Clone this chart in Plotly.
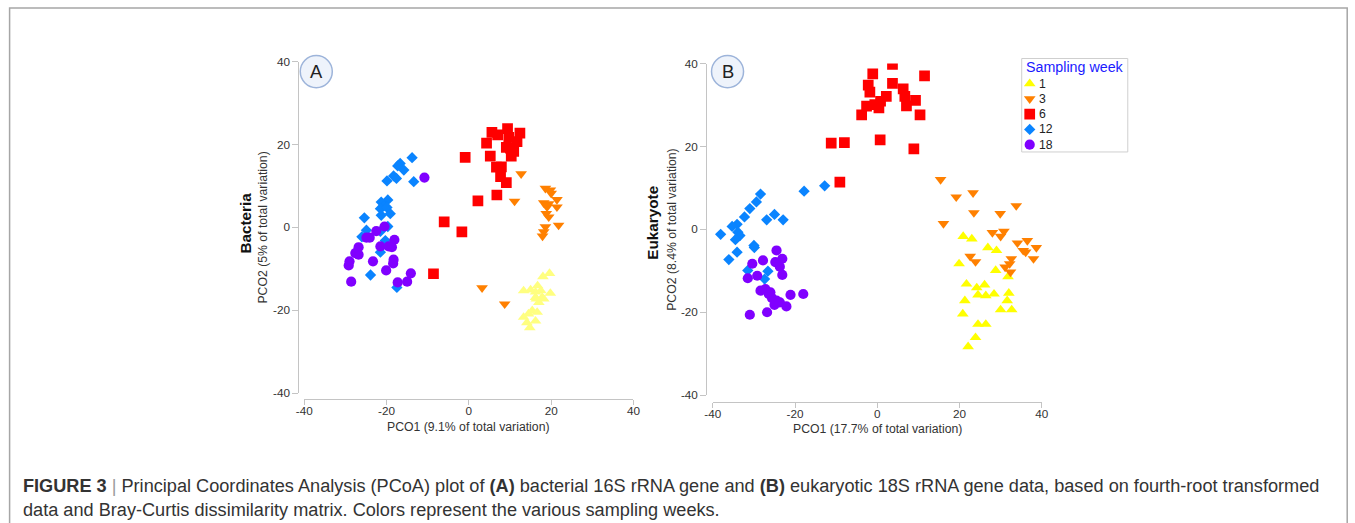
import plotly.graph_objects as go

# The viewer captures the page (with an 8px body margin) as a 1371x539 area
# and scales it to 1355x523; positions below are given in reference pixels and
# converted so that they land in the right place after that.
W, H = 1355, 523
MARGIN = 8
SX, SY = (W + 2 * MARGIN) / W, (H + 2 * MARGIN) / H
FS = 1.02  # font / marker compensation for the capture shrink

# ---------------- data ----------------
weeks = ["1", "3", "6", "12", "18"]
symbols = ["triangle-up", "triangle-down", "square", "diamond", "circle"]
colors_A = ["#ffff80", "#ff8000", "#ff0000", "#0a84ff", "#8000ff"]
colors_B = ["#ffff00", "#ff8000", "#ff0000", "#0a84ff", "#8000ff"]
sizes = [10, 10, 10.5, 8.5, 10]

tick_vals = [-40, -20, 0, 20, 40]
tick_text = ["-40", "-20", "0", "20", "40"]

# Panel A: Bacteria
bact_w1_x = [19.6, 18.0, 19.8, 13.3, 15.0, 16.7, 17.5, 16.2, 18.2, 17.0, 15.4, 16.6, 14.5, 13.3, 14.1, 16.2, 14.8, 17.8, 16.4, 16.2]
bact_w1_y = [-11.1, -11.9, -15.9, -15.3, -15.1, -14.1, -15.3, -16.9, -17.3, -18.1, -20.1, -20.5, -20.9, -21.7, -23.0, -22.6, -24.2, -16.9, -17.3, -15.6]
bact_w3_x = [12.7, 11.1, 18.6, 19.8, 20.0, 18.2, 19.4, 21.4, 21.4, 19.0, 18.8, 19.4, 21.8, 18.6, 18.2, 17.9, 3.2, 8.7]
bact_w3_y = [12.9, 6.3, 9.4, 9.0, 8.2, 5.9, 5.7, 6.7, 4.9, 4.9, 3.3, 2.5, 0.5, 0.1, -1.1, -2.1, -14.6, -18.5]
bact_w6_x = [5.6, 7.0, 9.4, 12.4, 9.7, 11.7, 4.3, 9.1, 10.1, 10.9, 10.3, 5.2, -0.9, 6.7, 7.9, 7.7, 9.1, 6.8, 2.2, -6.0, -1.7, -8.6]
bact_w6_y = [22.9, 22.3, 23.8, 22.7, 21.7, 20.7, 20.3, 19.3, 19.1, 18.3, 17.2, 17.2, 16.9, 14.5, 14.6, 12.2, 10.8, 7.8, 6.4, 1.3, -1.1, -11.2]
bact_w12_x = [-13.8, -16.7, -17.3, -15.8, -18.3, -17.6, -19.9, -13.4, -19.7, -21.3, -20.7, -21.5, -19.9, -19.1, -21.3, -25.4, -19.7, -24.9, -26.0, -20.3, -21.5, -23.9, -17.5, -21.5]
bact_w12_y = [16.8, 15.4, 14.8, 13.8, 12.4, 11.8, 11.2, 11.0, 6.6, 6.1, 5.1, 4.5, 4.8, 3.3, 2.9, 2.3, 0.2, -0.7, -2.3, -3.2, -6.0, -11.5, -14.5, -1.0]
bact_w18_x = [-10.8, -22.5, -20.5, -24.9, -24.1, -18.1, -26.8, -21.5, -19.5, -18.7, -27.6, -26.8, -29.0, -29.2, -23.3, -18.3, -18.4, -20.1, -14.1, -28.6, -17.3, -15.0]
bact_w18_y = [12.0, -0.9, 0.2, -2.5, -2.5, -3.0, -4.8, -4.6, -4.6, -4.8, -6.2, -6.6, -8.2, -9.2, -8.2, -7.8, -8.7, -10.4, -11.1, -13.1, -13.3, -13.1]

# Panel B: Eukaryote
euk_w1_x = [20.9, 23.0, 26.9, 29.0, 19.9, 28.8, 31.8, 21.7, 24.2, 26.1, 24.5, 26.4, 28.4, 32.0, 21.3, 31.6, 30.0, 32.7, 20.8, 24.5, 26.4, 23.9, 22.1]
euk_w1_y = [-1.7, -2.3, -4.4, -5.1, -8.3, -9.9, -11.4, -13.2, -14.1, -13.4, -15.8, -16.0, -15.6, -15.4, -17.2, -17.2, -19.4, -19.4, -20.4, -22.9, -22.9, -26.1, -28.3]
euk_w3_x = [15.4, 19.2, 23.3, 23.5, 29.9, 33.8, 16.1, 28.0, 30.0, 30.8, 34.1, 36.5, 38.7, 35.5, 36.1, 38.0, 22.6, 23.9, 32.6, 31.1, 32.4, 32.2]
euk_w3_y = [12.0, 7.8, 8.8, 4.0, 3.8, 5.7, 1.4, -0.8, -1.7, -0.5, -3.3, -2.7, -4.4, -5.1, -5.5, -7.1, -6.5, -7.8, -7.1, -9.1, -10.3, -8.3]
euk_w6_x = [3.7, -1.1, 11.5, -2.2, 3.7, -1.8, 6.3, 6.7, 2.2, 0.8, 9.3, -2.6, -0.6, 0.4, 7.1, -3.8, 10.4, 0.7, -11.2, -8.0, 8.9, -9.1]
euk_w6_y = [39.8, 37.5, 37.0, 34.8, 35.2, 33.1, 33.9, 32.1, 32.1, 30.9, 31.1, 29.7, 30.1, 29.3, 29.8, 27.6, 27.6, 21.6, 20.8, 20.9, 19.4, 11.4]
euk_w12_x = [-28.4, -29.4, -31.0, -32.3, -34.1, -35.3, -33.9, -33.4, -34.5, -38.1, -26.9, -25.0, -22.9, -30.0, -29.9, -34.1, -36.1, -31.5, -26.6, -27.4, -17.8, -12.8]
euk_w12_y = [8.5, 6.6, 5.0, 3.0, 1.2, 0.7, -0.7, -1.5, -2.5, -1.2, 2.3, 3.6, 2.3, -3.9, -4.4, -5.5, -7.3, -9.9, -10.1, -12.0, 9.2, 10.5]
euk_w18_x = [-24.5, -30.4, -27.8, -24.8, -23.1, -23.7, -23.1, -31.5, -29.2, -28.4, -27.2, -26.4, -25.6, -24.5, -23.7, -25.0, -22.1, -21.1, -18.0, -26.8, -31.0, -26.0]
euk_w18_y = [-5.1, -8.3, -7.5, -7.9, -7.1, -9.0, -11.0, -11.8, -11.2, -14.8, -14.4, -15.6, -16.6, -17.2, -17.6, -18.2, -18.6, -15.8, -15.6, -20.0, -20.6, -15.2]

bact = [(bact_w1_x, bact_w1_y), (bact_w3_x, bact_w3_y), (bact_w6_x, bact_w6_y),
        (bact_w12_x, bact_w12_y), (bact_w18_x, bact_w18_y)]
euk = [(euk_w1_x, euk_w1_y), (euk_w3_x, euk_w3_y), (euk_w6_x, euk_w6_y),
       (euk_w12_x, euk_w12_y), (euk_w18_x, euk_w18_y)]

# ---------------- helpers (reference pixel -> paper) ----------------
def PX(px):
    return (px * SX - MARGIN) / W

def PY(py):
    return 1 - (py * SY - MARGIN) / H

FONT = "Liberation Sans, Arial, sans-serif"
AXIS_COL = "#c4c4c4"
TXT = "#333333"
PAD = 2.4  # annotation inner padding for left-anchored texts

fig = go.Figure()

for i, (xs, ys) in enumerate(bact):
    fig.add_trace(go.Scatter(x=xs, y=ys, mode="markers", xaxis="x", yaxis="y",
                             name=weeks[i], showlegend=False,
                             marker=dict(symbol=symbols[i], color=colors_A[i], size=sizes[i] * FS,
                                         line=dict(width=0))))
for i, (xs, ys) in enumerate(euk):
    fig.add_trace(go.Scatter(x=xs, y=ys, mode="markers", xaxis="x2", yaxis="y2",
                             name=weeks[i], showlegend=False,
                             marker=dict(symbol=symbols[i], color=colors_B[i], size=sizes[i] * FS,
                                         line=dict(width=0))))

# manual legend (reference-pixel helper axis)
LEG_L, LEG_R, LEG_T, LEG_B = 1021, 1127, 59, 152
leg_y0, leg_dy, leg_mx, leg_tx = 84, 15.2, 1029, 1039
for i in range(len(weeks)):
    fig.add_trace(go.Scatter(x=[leg_mx], y=[leg_y0 + i * leg_dy], mode="markers",
                             xaxis="x3", yaxis="y3", showlegend=False, hoverinfo="skip",
                             marker=dict(symbol=symbols[i], color=colors_B[i], size=sizes[i] * FS,
                                         line=dict(width=0))))

axis_common = dict(range=[-40, 40], tickvals=tick_vals, ticktext=tick_text,
                   showgrid=False, zeroline=False, showline=True, linecolor=AXIS_COL,
                   linewidth=1, ticks="outside", tickcolor=AXIS_COL, tickwidth=1,
                   tickfont=dict(family=FONT, size=11.5 * FS, color=TXT), anchor="free")

fig.update_layout(
    width=W, height=H, margin=dict(l=0, r=0, t=0, b=0),
    paper_bgcolor="white", plot_bgcolor="rgba(0,0,0,0)",
    xaxis=dict(domain=[PX(304), PX(633)], position=PY(398), ticklen=5,
               ticklabelstandoff=-4, **axis_common),
    yaxis=dict(domain=[PY(392), PY(62)], position=PX(298), ticklen=6, **axis_common),
    xaxis2=dict(domain=[PX(712.3), PX(1041)], position=PY(400.7), ticklen=5,
                ticklabelstandoff=-4, **axis_common),
    yaxis2=dict(domain=[PY(394), PY(64)], position=PX(705.7), ticklen=6, **axis_common),
    xaxis3=dict(domain=[PX(LEG_L), PX(LEG_R)], range=[LEG_L, LEG_R], visible=False,
                anchor="y3", fixedrange=True),
    yaxis3=dict(domain=[PY(LEG_B), PY(LEG_T)], range=[LEG_B, LEG_T], visible=False,
                anchor="x3", fixedrange=True),
    showlegend=False,
)

shapes = []
# outer frame (right edge kept at the figure border)
shapes.append(dict(type="rect", xref="paper", yref="paper", x0=PX(9.5), x1=1 - 0.8 / W,
                   y0=-0.2, y1=PY(8.8), line=dict(color="#a6a6a6", width=1.5),
                   fillcolor="rgba(0,0,0,0)", layer="below"))
# legend box
shapes.append(dict(type="rect", xref="paper", yref="paper", x0=PX(LEG_L), x1=PX(LEG_R),
                   y0=PY(LEG_B), y1=PY(LEG_T), line=dict(color="#cfcfcf", width=1),
                   fillcolor="rgba(0,0,0,0)", layer="below"))
# panel letter circles
for cx, cy in [(316, 72), (727, 72)]:
    shapes.append(dict(type="circle", xref="paper", yref="paper",
                       x0=PX(cx - 16), x1=PX(cx + 16), y0=PY(cy + 16), y1=PY(cy - 16),
                       line=dict(color="#9db4da", width=1.5), fillcolor="#eef3fb",
                       layer="below"))
fig.update_layout(shapes=shapes)

ann = []
def A(text, x, y, size, color=TXT, angle=0, xanchor="center", yanchor="middle", bold=False):
    if xanchor == "left":
        x = x - PAD
    ann.append(dict(text=("<b>%s</b>" % text) if bold else text, x=PX(x), y=PY(y),
                    xref="paper", yref="paper", showarrow=False, textangle=angle,
                    xanchor=xanchor, yanchor=yanchor,
                    font=dict(family=FONT, size=size * FS, color=color)))

A("A", 316, 72, 18, color="#222222")
A("B", 727, 72, 18, color="#222222")
A("PCO1 (9.1% of total variation)", 468.5, 425.5, 12)
A("PCO2 (5% of total variation)", 263, 227, 12, angle=-90)
A("Bacteria", 245, 223, 15, color="#111111", angle=-90, bold=True)
A("PCO1 (17.7% of total variation)", 876.8, 427.5, 12)
A("PCO2 (8.4% of total variation)", 672, 229, 12, angle=-90)
A("Eukaryote", 652, 222, 15, color="#111111", angle=-90, bold=True)
# legend texts
A("Sampling week", 1025.3, 67.5, 14, color="#1a1aff", xanchor="left")
for i, w in enumerate(weeks):
    A(w, leg_tx, leg_y0 + i * leg_dy, 12, color="#222222", xanchor="left")
# caption
cap1 = ("<b>FIGURE 3</b> <span style='color:#9a9a9a'>|</span> Principal Coordinates Analysis (PCoA) plot of "
        "<b>(A)</b> bacterial 16S rRNA gene and <b>(B)</b> eukaryotic 18S rRNA gene data, based on fourth-root transformed")
cap2 = "data and Bray-Curtis dissimilarity matrix. Colors represent the various sampling weeks."
A(cap1, 23.3, 484.5, 17.8, xanchor="left")
A(cap2, 23.3, 508, 17.8, xanchor="left")
fig.update_layout(annotations=ann)

fig.write_html("out.html")
